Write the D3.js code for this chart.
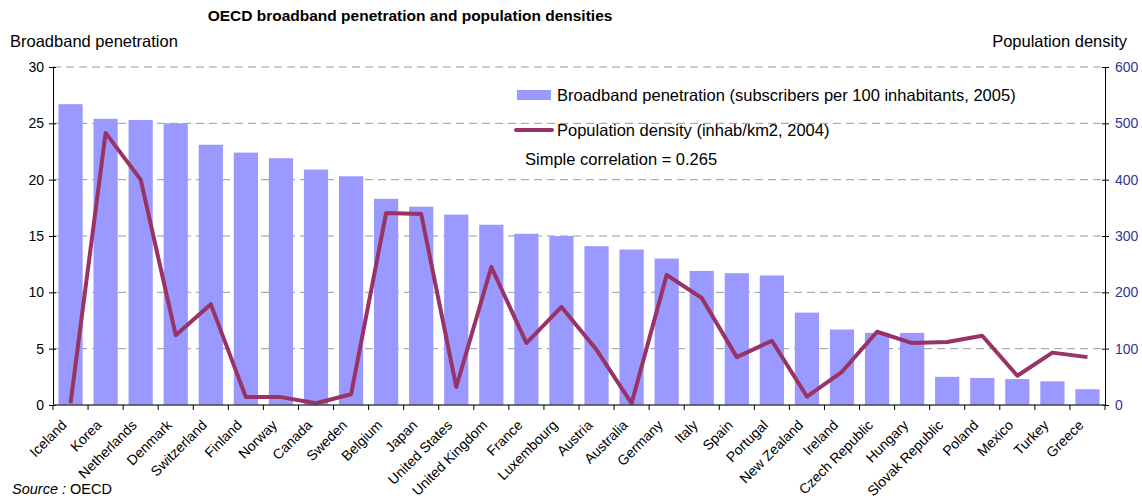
<!DOCTYPE html>
<html><head><meta charset="utf-8">
<script src="https://cdn.jsdelivr.net/npm/d3@7"></script>
<style>body{margin:0;background:#fff}svg{display:block;font-family:"Liberation Sans",Arial,sans-serif}</style>
</head><body><svg id="c" width="1142" height="498"></svg>
<script>
const countries=["Iceland","Korea","Netherlands","Denmark","Switzerland","Finland","Norway","Canada","Sweden","Belgium","Japan","United States","United Kingdom","France","Luxembourg","Austria","Australia","Germany","Italy","Spain","Portugal","New Zealand","Ireland","Czech Republic","Hungary","Slovak Republic","Poland","Mexico","Turkey","Greece"];
const broadband=[26.7,25.4,25.3,25.0,23.1,22.4,21.9,20.9,20.3,18.3,17.6,16.9,16.0,15.2,15.0,14.1,13.8,13.0,11.9,11.7,11.5,8.2,6.7,6.4,6.4,2.5,2.4,2.3,2.1,1.4];
const density=[3,483,400,124,179,14,14,3,19,341,339,32,245,110,174,98,3,231,190,85,114,15,59,130,110,112,123,52,93,85];
const leftTicks=[0,5,10,15,20,25,30];
const rightTicks=[0,100,200,300,400,500,600];

const svg=d3.select("#c");
const L=53,R=1105,T=67,B=405;
const x=d3.scaleBand().domain(countries).range([L,R]).paddingInner(0.31).paddingOuter(0.155);
const xb=d3.scaleBand().domain(countries).range([L,R]);
const yL=d3.scaleLinear().domain([0,30]).range([B,T]);
const yR=d3.scaleLinear().domain([0,600]).range([B,T]);

// gridlines
svg.append("g").selectAll("line").data(leftTicks.filter(d=>d>0)).join("line")
 .attr("x1",L).attr("x2",R).attr("y1",d=>yL(d)).attr("y2",d=>yL(d))
 .attr("stroke","#999").attr("stroke-width",1).attr("stroke-dasharray","8,5");

// bars
svg.append("g").selectAll("rect").data(countries).join("rect")
 .attr("x",d=>x(d)).attr("width",x.bandwidth())
 .attr("y",(d,i)=>yL(broadband[i])).attr("height",(d,i)=>B-yL(broadband[i]))
 .attr("fill","#9999ff");

// line
const line=d3.line().x((d,i)=>xb(countries[i])+xb.bandwidth()/2).y(d=>yR(d));
svg.append("path").datum(density).attr("d",line).attr("fill","none")
 .attr("stroke","#993366").attr("stroke-width",4).attr("stroke-linejoin","round");

// axes
const gl=svg.append("g").attr("transform",`translate(${L},0)`)
 .call(d3.axisLeft(yL).tickValues(leftTicks).tickSize(4).tickSizeOuter(0));
gl.selectAll("line").attr("x2",-4).attr("x1",3);
gl.selectAll("text").attr("font-size",14).attr("fill","#000").attr("x",-9);
gl.select(".domain").attr("stroke","#000");

const gr=svg.append("g").attr("transform",`translate(${R},0)`)
 .call(d3.axisRight(yR).tickValues(rightTicks).tickSize(4).tickSizeOuter(0));
gr.selectAll("line").attr("x1",-3);
gr.selectAll("text").attr("font-size",14).attr("fill","#333399").attr("x",10);
gr.select(".domain").attr("stroke","#000");

const gx=svg.append("g").attr("transform",`translate(0,${B})`);
gx.append("line").attr("x1",L).attr("x2",R).attr("stroke","#444").attr("stroke-width",1.5);
gx.selectAll("line.t").data(d3.range(countries.length+1)).join("line").attr("class","t")
 .attr("x1",i=>L+i*xb.step()).attr("x2",i=>L+i*xb.step()).attr("y1",0).attr("y2",5).attr("stroke","#000");
gx.selectAll("text").data(countries).join("text")
 .attr("transform",d=>`translate(${xb(d)+xb.bandwidth()/2-3},21) rotate(-45)`)
 .attr("text-anchor","end").attr("font-size",14).attr("fill","#000").text(d=>d);

// titles
svg.append("text").attr("x",410).attr("y",21).attr("text-anchor","middle").attr("font-weight","bold").attr("font-size",15.5).text("OECD broadband penetration and population densities");
svg.append("text").attr("x",10).attr("y",47).attr("font-size",16.5).text("Broadband penetration");
svg.append("text").attr("x",1127).attr("y",47).attr("text-anchor","end").attr("font-size",16.5).text("Population density");

// legend
svg.append("rect").attr("x",517).attr("y",90).attr("width",34).attr("height",10).attr("fill","#9999ff");
svg.append("text").attr("x",557).attr("y",101).attr("font-size",16.5).text("Broadband penetration (subscribers per 100 inhabitants, 2005)");
svg.append("line").attr("x1",516).attr("x2",552).attr("y1",130).attr("y2",130).attr("stroke","#993366").attr("stroke-width",4).attr("stroke-linecap","round");
svg.append("text").attr("x",557).attr("y",136).attr("font-size",16.5).text("Population density (inhab/km2, 2004)");
svg.append("text").attr("x",525).attr("y",165).attr("font-size",16.5).text("Simple correlation = 0.265");

// source
const s=svg.append("text").attr("x",12).attr("y",494).attr("font-size",14.5);
s.append("tspan").attr("font-style","italic").text("Source : ");
s.append("tspan").text(" OECD");
</script></body></html>
